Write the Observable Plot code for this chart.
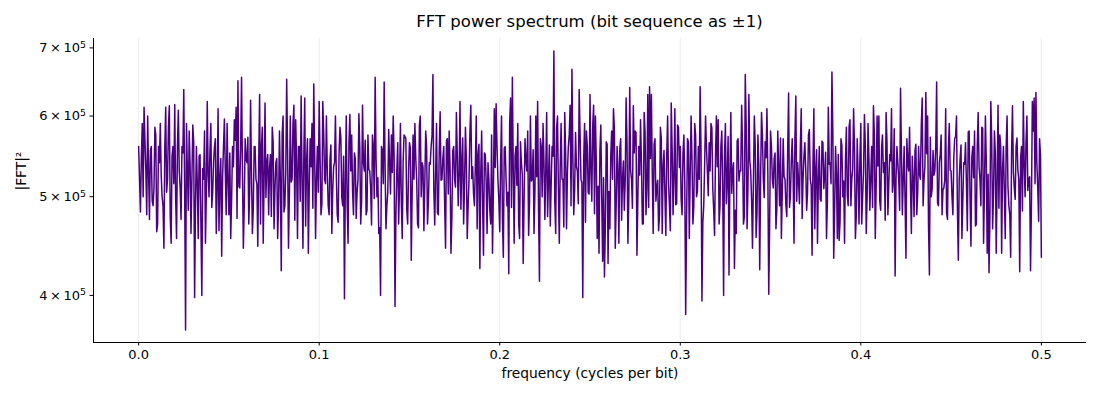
<!DOCTYPE html>
<html><head><meta charset="utf-8">
<script src="https://cdn.jsdelivr.net/npm/d3@7"></script>
<script src="https://cdn.jsdelivr.net/npm/@observablehq/plot@0.6"></script>
<style>
body{margin:0;background:#fff;font-family:"DejaVu Sans",sans-serif;}
#title{width:1100px;height:30px;box-sizing:border-box;padding:13px 14px 0 93px;line-height:18px;text-align:center;font-size:16.5px;color:#000;}
svg{display:block;}
</style>
</head><body>
<div id="title">FFT power spectrum (bit sequence as ±1)</div>
<div id="chart"></div>
<script>
// |FFT|^2 values in thousands: even frequency bins (0, 0.001, ... 0.5)
const powerEvenK = [
560,483,590,612,530,600,475,560,490,585,462,560,590,500,445,612,520,614,450,560,
616,455,608,510,560,637,370,530,580,460,588,398,560,455,550,400,520,450,620,500,
590,505,560,460,610,520,437,560,530,590,480,455,560,595,612,650,510,655,445,570,
540,470,
622,460,560,520,447,630,560,450,618,540,480,550,585,465,540,455,580,423,600,490,
652,445,600,520,615,595,455,560,628,445,625,540,440,570,590,645,455,560,620,480,
620,520,600,490,545,460,535,600,480,550,572,490,397,600,450,602,575,480,545,505,
603,470,615,530,
480,575,530,469,560,655,500,460,400,555,648,465,505,540,575,600,390,530,470,590,
455,575,570,470,565,433,575,590,520,466,600,540,463,580,470,540,560,659,469,590,
480,606,520,560,445,570,580,440,555,520,605,490,620,540,470,585,455,520,615,535,
490,600,550,425,
580,438,550,460,520,470,440,610,617,520,462,600,436,560,490,420,625,655,450,560,
590,455,540,430,570,530,458,600,520,460,600,620,413,560,590,475,605,520,468,560,
695,460,600,450,590,520,605,465,560,615,667,480,578,530,637,520,398,590,580,505,
630,495,615,
600,455,440,588,432,417,566,430,465,580,610,445,560,450,570,520,485,625,450,640,
520,614,580,438,560,595,470,605,480,630,641,630,460,570,510,463,585,460,555,458,
600,490,618,480,610,492,585,560,480,575,383,570,455,600,470,590,500,560,641,395,
490,600,530,565,
590,510,458,600,595,490,580,400,590,520,419,605,530,425,460,570,530,615,470,659,
465,630,530,445,600,456,575,424,605,520,566,610,401,580,520,545,465,580,490,455,
570,520,478,632,500,570,450,628,540,492,610,520,565,485,575,520,438,610,530,450,
560,495,565,525,
455,612,540,663,435,560,455,453,570,500,450,585,490,595,520,610,455,570,470,590,
500,602,460,590,485,560,614,455,600,600,485,575,540,605,480,550,610,520,418,560,
520,639,480,560,435,540,585,460,520,555,480,560,520,625,520,633,600,419,500,555,
530,648,490,550,
480,510,610,475,590,530,480,570,600,433,545,455,540,565,463,580,447,560,580,470,
605,520,585,450,600,440,421,620,465,580,440,615,575,440,560,455,600,490,436,614,
510,560,530,422,560,620,500,600,520,423,620,625,633,510,570,436
];
// |FFT|^2 values in thousands: odd frequency bins (0.0005, 0.0015, ... 0.4995)
const powerOddK = [
520,545,500,568,480,530,555,495,510,575,470,540,525,490,560,505,585,478,548,515,
498,562,530,475,552,508,590,485,538,520,565,492,515,548,470,533,580,502,526,555,
488,540,570,510,463,545,523,596,480,518,552,497,535,568,476,512,558,530,490,544,
572,505,528,486,560,515,540,470,585,522,499,550,533,478,566,508,545,492,520,575,
483,530,556,502,517,590,474,538,560,495,525,548,468,570,512,535,487,553,520,505,
545,492,578,515,530,480,562,508,540,525,472,585,500,548,518,490,565,530,506,552,
476,520,558,495,540,568,485,532,510,575,498,545,522,466,560,515,537,490,582,503,
528,550,480,565,512,494,541,573,486,530,558,505,520,545,470,588,500,535,516,560,
495,538,574,508,527,482,556,519,545,490,568,503,532,477,560,511,549,525,486,571,
512,546,490,580,521,503,537,465,563,528,495,552,517,540,485,575,508,534,560,497,
540,475,558,522,505,590,488,530,548,513,470,566,526,498,544,580,492,518,556,507,
523,485,570,500,541,530,478,562,515,548,494,584,508,536,520,467,553,528,575,490,
550,508,535,492,577,516,544,472,560,503,529,586,481,540,512,555,498,522,468,563,
506,548,520,584,490,533,557,474,542,518,565,500,530,487,552,578,496,525,540,470,
578,510,488,545,527,563,495,519,480,570,536,502,550,515,463,557,524,491,588,534,
498,552,515,476,566,528,543,489,575,506,520,555,472,538,560,501,530,584,486,546,
535,470,560,512,548,492,573,525,504,540,485,567,518,530,556,478,589,510,543,497,
516,563,482,538,520,575,499,546,528,469,560,510,552,487,534,571,505,523,490,558,
488,542,527,570,495,518,560,476,548,532,505,582,513,539,465,556,521,497,567,509,
553,496,538,515,580,486,527,550,473,562,518,544,502,586,490,532,559,480,525,546,
470,530,562,500,544,522,488,576,511,536,495,558,528,474,565,515,542,505,583,520,
540,485,555,520,497,570,530,512,548,478,563,504,526,588,490,535,551,468,572,509,
525,560,493,540,575,508,519,482,557,531,500,546,573,487,520,562,496,538,514,579,
499,547,522,468,561,535,490,584,512,543,526,477,569,503,552,518,487,560,532,505,
560,512,480,553,529,497,571,520,545,484,538,566,507,523,490,580,515,540,473,550
];
const freqMin = 0, freqMax = 0.5;
const xTicks = [0, 0.1, 0.2, 0.3, 0.4, 0.5];
const xTickLabels = ["0.0", "0.1", "0.2", "0.3", "0.4", "0.5"];
const yTicks = [4e5, 5e5, 6e5, 7e5];
const yTickMantissas = ["4", "5", "6", "7"];
const yTickExponent = "5";
const xDomain = [-0.025, 0.525];
const yDomain = [3.596e5, 7.15e5];

// merge even and odd bins in frequency order
const powerK = [];
powerEvenK.forEach((p, i) => { powerK.push(p); if (i < powerOddK.length) powerK.push(powerOddK[i]); });
const n = powerK.length;
const data = powerK.map((p, i) => ({f: freqMin + i * (freqMax - freqMin) / (n - 1), power: p * 1000}));

const plot = Plot.plot({
  width: 1100,
  height: 370,
  marginLeft: 93,
  marginRight: 14,
  marginTop: 8,
  marginBottom: 58,
  style: {fontFamily: "DejaVu Sans, sans-serif", fontSize: "13px", color: "#000", background: "#fff"},
  x: {domain: xDomain},
  y: {type: "log", domain: yDomain},
  marks: [
    Plot.gridX(xTicks, {stroke: "#b0b0b0", strokeOpacity: 0.3, strokeWidth: 0.8}),
    Plot.line(data, {x: "f", y: "power", stroke: "#4B0082", strokeWidth: 1.5}),
    Plot.axisX({ticks: xTicks, tickFormat: d => xTickLabels[xTicks.indexOf(d)], tickSize: 3.5, tickPadding: 4, label: null}),
    Plot.axisY({ticks: yTicks, tickFormat: d => yTickMantissas[yTicks.indexOf(d)] + "\u2009×\u200910", tickSize: 3.5, tickPadding: 4, label: null}),
    Plot.ruleX([xDomain[0]], {stroke: "#000", strokeWidth: 1}),
    Plot.ruleY([yDomain[0]], {stroke: "#000", strokeWidth: 1}),
    Plot.text(["frequency (cycles per bit)"], {frameAnchor: "bottom", dy: 35, fontSize: 13.8, fill: "#000"}),
    Plot.text(["|FFT|²"], {frameAnchor: "left", dx: -72, rotate: -90, fontSize: 13.8, fill: "#000"})
  ]
});
// superscript exponent on the y tick labels (10^5)
plot.querySelectorAll('g[aria-label="y-axis tick label"] text').forEach(t => {
  const sup = document.createElementNS("http://www.w3.org/2000/svg", "tspan");
  sup.setAttribute("dy", "-0.45em");
  sup.setAttribute("font-size", "0.72em");
  sup.textContent = yTickExponent;
  t.appendChild(sup);
});
document.getElementById("chart").appendChild(plot);
</script>
</body></html>
